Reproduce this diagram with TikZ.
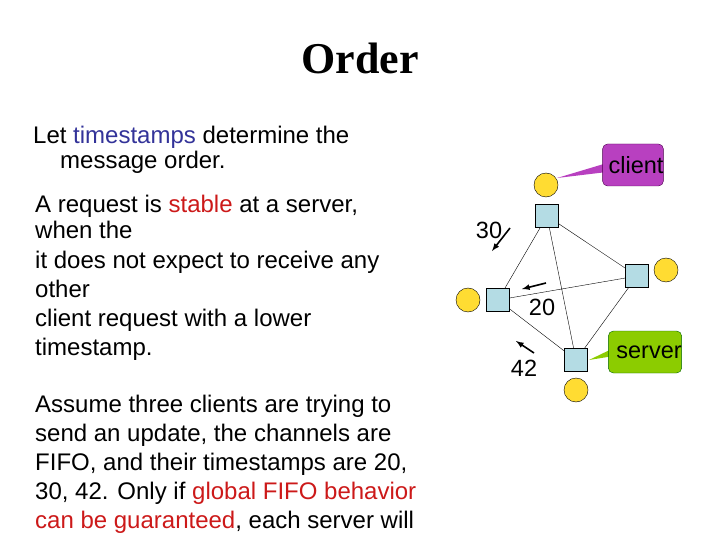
\documentclass[tikz,border=0pt]{standalone}
\usepackage{fontspec}
\setmainfont{Liberation Sans}
\newfontfamily\titlefont{Liberation Serif}
\begin{document}
\begin{tikzpicture}[x=1pt,y=-1pt,
 txt/.style={anchor=base west,inner sep=0pt,font=\fontsize{24}{24}\selectfont},
 sq/.style={draw,fill={rgb,255:red,180;green,220;blue,228},minimum size=23pt,inner sep=0pt},
 cl/.style={circle,draw,fill={rgb,255:red,255;green,220;blue,50},minimum size=24pt,inner sep=0pt},
 lbl/.style={font=\fontsize{23.5}{24}\selectfont,inner sep=0pt},
 arr/.style={-latex,line width=1.6pt}]
\useasboundingbox (0,0) rectangle (720,540);
\node[font=\titlefont\bfseries\fontsize{44}{44}\selectfont] (title) at (360,58) {Order};
\node[txt] (l1) at (33,144) {Let \textcolor[rgb]{0.2,0.2,0.6}{timestamps} determine the};
\node[txt] (l2) at (60,169) {message order.};
\node[txt] (p1) at (35,213) {A request is \textcolor[rgb]{0.8,0.1,0.1}{stable} at a server,};
\node[txt] (p2) at (35,239) {when the};
\node[txt] (p3) at (35,268) {it does not expect to receive any};
\node[txt] (p4) at (35,297) {other};
\node[txt] (p5) at (35,326) {client request with a lower};
\node[txt] (p6) at (35,355) {timestamp.};
\node[txt] (q1) at (35,412) {Assume three clients are trying to};
\node[txt] (q2) at (35,441) {send an update, the channels are};
\node[txt] (q3) at (35,470) {FIFO, and their timestamps are 20,};
\node[txt] (q4) at (35,499) {30, 42. Only if \textcolor[rgb]{0.8,0.1,0.1}{global FIFO behavior}};
\node[txt] (q5) at (35,528) {\textcolor[rgb]{0.8,0.1,0.1}{can be guaranteed}, each server will};
% callouts
\coordinate (cp) at (557,178);
\fill[fill={rgb,255:red,184;green,64;blue,192}] (cp) -- (607,163) -- (607,172) -- cycle;
\node[draw=violet!60!black,fill={rgb,255:red,184;green,64;blue,192},rounded corners=5pt,minimum width=53pt,minimum height=42pt,lbl] (client) at (633,165) {\hspace*{6pt}client};
\coordinate (sp) at (589,360);
\fill[fill={rgb,255:red,140;green,204;blue,0}] (sp) -- (620,345) -- (620,355) -- cycle;
\node[draw=green!40!black,fill={rgb,255:red,140;green,204;blue,0},rounded corners=5pt,minimum width=54pt,minimum height=42pt,lbl] (server) at (645,352) {\hspace*{8pt}server};
% servers and clients
\node[sq] (t) at (547,216) {};
\node[sq] (l) at (498,300) {};
\node[sq] (r) at (637,276) {};
\node[sq] (b) at (576,360) {};
\node[cl] (ct) at (546,185) {};
\node[cl] (cl) at (468,300) {};
\node[cl] (cr) at (666,270) {};
\node[cl] (cb) at (576,390) {};
\draw[thin] (t)--(l) (t)--(b) (t)--(r) (l)--(r) (l)--(b) (r)--(b);
% messages
\node[lbl] (n30) at (489,230) {30};
\node[lbl] (n20) at (542,307) {20};
\node[lbl] (n42) at (524,368) {42};
\coordinate (a30s) at (510,228); \coordinate (a30e) at (492,251);
\coordinate (a20s) at (546,283); \coordinate (a20e) at (522,289);
\coordinate (a42s) at (534,353); \coordinate (a42e) at (516,341);
\draw[arr] (a30s)--(a30e);
\draw[arr] (a20s)--(a20e);
\draw[arr] (a42s)--(a42e);
\end{tikzpicture}
\end{document}
